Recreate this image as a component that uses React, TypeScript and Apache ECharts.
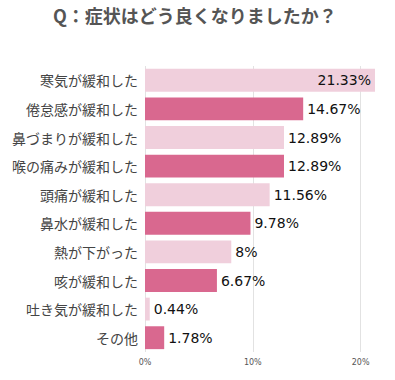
import React, { useEffect, useRef } from "react";
import * as echarts from "echarts";

const categories = [
  "寒気が緩和した",
  "倦怠感が緩和した",
  "鼻づまりが緩和した",
  "喉の痛みが緩和した",
  "頭痛が緩和した",
  "鼻水が緩和した",
  "熱が下がった",
  "咳が緩和した",
  "吐き気が緩和した",
  "その他",
];
const values = [21.33, 14.67, 12.89, 12.89, 11.56, 9.78, 8, 6.67, 0.44, 1.78];
const titleText = "Q：症状はどう良くなりましたか？";
const lightColor = "#f0cfdc";
const darkColor = "#d9688f";

export default function App() {
  const ref = useRef<HTMLDivElement>(null);
  useEffect(() => {
    if (!ref.current) return;
    const chart = echarts.init(ref.current, null, { renderer: "svg" });
    const maxV = Math.max(...values);
    chart.setOption({
      animation: false,
      title: {
        text: titleText,
        left: 48,
        top: 1,
        textStyle: {
          fontSize: 18,
          fontWeight: "bold",
          color: "#555555",
          fontFamily: "'Noto Sans CJK JP', sans-serif",
        },
      },
      grid: { left: 145, right: 20, top: 66, bottom: 28, containLabel: false },
      xAxis: {
        type: "value",
        min: 0,
        max: maxV,
        interval: 10,
        axisLine: { show: false },
        axisTick: { show: false },
        splitLine: { show: true, showMaxLine: false, lineStyle: { color: "#e2e2e2", width: 1 } },
        axisLabel: {
          fontSize: 8,
          color: "#555",
          margin: 6,
          fontFamily: "'DejaVu Sans', sans-serif",
          showMaxLabel: false,
          formatter: (v: number) => (v % 10 === 0 ? v + "%" : ""),
        },
      },
      yAxis: {
        type: "category",
        data: categories,
        inverse: true,
        axisLine: { show: false },
        axisTick: { show: false },
        axisLabel: {
          fontSize: 14,
          color: "#444",
          margin: 7,
          fontFamily: "'Noto Sans CJK JP', sans-serif",
        },
      },
      series: [
        {
          type: "bar",
          barWidth: "80%",
          data: values.map((v, i) => ({
            value: v,
            itemStyle: { color: i % 2 === 0 ? lightColor : darkColor },
            label: {
              show: true,
              position: v === maxV ? "insideRight" : "right",
              distance: 4,
              formatter: (p: any) => p.value + "%",
              fontSize: 14,
              color: "#111",
              fontFamily: "'DejaVu Sans', sans-serif",
            },
          })),
        },
      ],
    });
    return () => chart.dispose();
  }, []);
  return (
    <div
      ref={ref}
      style={{ position: "absolute", left: 0, top: 0, width: 395, height: 380 }}
    />
  );
}
